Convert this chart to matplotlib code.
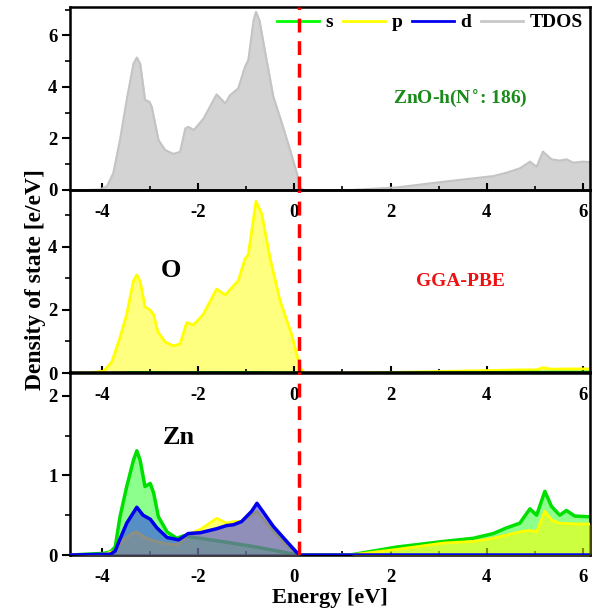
import numpy as np
import matplotlib
matplotlib.use("Agg")
import matplotlib.pyplot as plt
from matplotlib.ticker import MultipleLocator

plt.rcParams['font.family'] = ['Liberation Serif', 'DejaVu Serif']
plt.rcParams['font.weight'] = 'bold'
plt.rcParams['axes.unicode_minus'] = False

# ---- data (energy in eV, DOS in e/eV) ----
tdos_e = [-4.67, -4.3, -4.04, -3.9, -3.77, -3.63, -3.49, -3.35, -3.28, -3.21, -3.11, -3.02,
          -2.97, -2.83, -2.69, -2.52, -2.38, -2.27, -2.21, -2.09, -1.89, -1.62, -1.44,
          -1.34, -1.17, -1.03, -0.96, -0.85, -0.80, -0.73, -0.58, -0.44, -0.26, -0.09,
          0.05, 0.12, 0.2, 1.16, 2.13, 3.10, 4.14, 4.41, 4.69, 4.90, 5.04, 5.17, 5.35,
          5.52, 5.66, 5.80, 6.0, 6.15]
tdos_v = [0, 0, 0.02, 0.15, 0.65, 1.94, 3.5, 4.9, 5.14, 4.9, 3.5, 3.42,
          3.23, 1.94, 1.55, 1.40, 1.48, 2.39, 2.45, 2.33, 2.78, 3.71, 3.36,
          3.68, 3.94, 4.78, 5.04, 6.59, 6.91, 6.59, 5.04, 3.62, 2.58, 1.55,
          0.65, 0.08, 0, 0, 0.10, 0.32, 0.54, 0.67, 0.84, 1.10, 0.9, 1.49, 1.19,
          1.14, 1.19, 1.06, 1.10, 1.08]

o_p_e = [-4.67, -4.3, -3.97, -3.8, -3.63, -3.49, -3.35, -3.28, -3.21, -3.11, -3.00, -2.93,
         -2.84, -2.69, -2.52, -2.38, -2.24, -2.10, -1.90, -1.62, -1.44, -1.30, -1.17,
         -1.03, -0.96, -0.80, -0.68, -0.51, -0.30, -0.06, 0.12, 0.2, 1.2, 2.1, 3.1,
         4.1, 4.7, 5.04, 5.17, 5.35, 5.66, 6.15]
o_p_v = [0, 0, 0.06, 0.35, 1.12, 1.86, 2.92, 3.11, 2.9, 2.1, 1.99, 1.85,
         1.3, 0.98, 0.86, 0.92, 1.60, 1.52, 1.85, 2.66, 2.47, 2.71, 2.92,
         3.61, 3.75, 5.44, 5.04, 3.66, 2.29, 1.23, 0.17, 0, 0, 0.02, 0.05,
         0.08, 0.10, 0.10, 0.17, 0.12, 0.13, 0.13]
o_s_e = [-4.67, -3.9, -3.3, -2.5, -1.0, 0.1, 0.2, 1.2, 3.0, 5.2, 6.15]
o_s_v = [0, 0, 0.03, 0.02, 0.03, 0.01, 0, 0, 0.02, 0.04, 0.04]

zn_s_e = [-4.67, -3.97, -3.83, -3.73, -3.63, -3.49, -3.35, -3.28, -3.21, -3.11, -3.00,
          -2.93, -2.83, -2.65, -2.45, -2.31, -1.96, -1.41, -0.89, -0.44, -0.09, 0.12,
          1.16, 2.13, 3.10, 3.72, 4.14, 4.41, 4.69, 4.90, 5.04, 5.21, 5.35, 5.52,
          5.66, 5.83, 6.15]
zn_s_v = [0, 0.02, 0.04, 0.10, 0.48, 0.86, 1.19, 1.31, 1.19, 0.86, 0.90,
          0.78, 0.48, 0.29, 0.21, 0.24, 0.21, 0.16, 0.11, 0.06, 0.02, 0,
          0, 0.10, 0.17, 0.21, 0.27, 0.34, 0.40, 0.58, 0.50, 0.80, 0.61, 0.50,
          0.56, 0.49, 0.48]

zn_p_e = [-4.67, -3.97, -3.73, -3.63, -3.49, -3.35, -3.28, -3.11, -2.93, -2.65, -2.45,
          -2.31, -2.21, -1.96, -1.62, -1.41, -1.27, -1.10, -0.89, -0.78, -0.65, -0.44,
          -0.16, 0.12, 1.16, 2.13, 3.10, 3.72, 4.14, 4.41, 4.69, 4.90, 5.04, 5.21,
          5.35, 5.52, 5.83, 6.15]
zn_p_v = [0, 0.01, 0.05, 0.15, 0.22, 0.28, 0.29, 0.22, 0.18, 0.14, 0.13,
          0.20, 0.26, 0.32, 0.46, 0.40, 0.42, 0.42, 0.50, 0.55, 0.45, 0.30,
          0.12, 0, 0, 0.07, 0.15, 0.17, 0.21, 0.25, 0.29, 0.31, 0.29, 0.55,
          0.44, 0.40, 0.39, 0.39]

zn_d_e = [-4.67, -3.83, -3.73, -3.63, -3.49, -3.28, -3.15, -3.00, -2.86, -2.65, -2.41,
          -2.31, -2.21, -1.96, -1.62, -1.41, -1.27, -1.10, -0.89, -0.78, -0.65, -0.44,
          -0.16, 0.05, 0.12, 6.15]
zn_d_v = [0, 0.01, 0.05, 0.2, 0.4, 0.6, 0.5, 0.45, 0.34, 0.22, 0.19,
          0.23, 0.27, 0.28, 0.33, 0.37, 0.38, 0.42, 0.55, 0.65, 0.54, 0.36,
          0.17, 0.03, 0, 0]

e_fermi = 0.1

fig = plt.figure(figsize=(5.98, 6.12), dpi=100)
left, right = 70 / 598, 590 / 598
tops = [7, 190, 372]
h = 183
axes = []
for t in tops:
    ax = fig.add_axes([left, 1 - (t + h) / 612, right - left, h / 612])
    ax.set_facecolor('none')
    axes.append(ax)
ax1, ax2, ax3 = axes

# top: TDOS
ax1.fill_between(tdos_e, tdos_v, color='#d3d3d3')
ax1.plot(tdos_e, tdos_v, color='#c4c4c4', lw=1.5)
ax1.set_ylim(0, 7.1)
ax1.yaxis.set_major_locator(MultipleLocator(2))
ax1.yaxis.set_minor_locator(MultipleLocator(1))

# middle: O
ax2.fill_between(o_p_e, o_p_v, color='#ffff00', alpha=0.5, lw=0)
ax2.plot(o_p_e, o_p_v, color='#ffff00', lw=2)
ax2.fill_between(o_s_e, o_s_v, color='#00ff00', alpha=0.5, lw=0)
ax2.plot(o_s_e, o_s_v, color='#00dd00', lw=1.5)
ax2.set_ylim(0, 5.8)
ax2.yaxis.set_major_locator(MultipleLocator(2))
ax2.yaxis.set_minor_locator(MultipleLocator(1))

# bottom: Zn  (s, then p, then d on top)
ax3.fill_between(zn_s_e, zn_s_v, color='#00ff00', alpha=0.45, lw=0, zorder=1)
ax3.plot(zn_s_e, zn_s_v, color='#00e000', lw=2.5, zorder=2)
ax3.fill_between(zn_p_e, zn_p_v, color='#ffff00', alpha=0.55, lw=0, zorder=3)
ax3.plot(zn_p_e, zn_p_v, color='#ffff00', lw=2, zorder=4)
ax3.fill_between(zn_d_e, zn_d_v, color='#2020ff', alpha=0.5, lw=0, zorder=5)
ax3.plot(zn_d_e, zn_d_v, color='#0000ee', lw=2.5, zorder=6)
ax3.set_ylim(0, 2.3)
ax3.yaxis.set_major_locator(MultipleLocator(1))
ax3.yaxis.set_minor_locator(MultipleLocator(0.5))

for ax in axes:
    ax.set_xlim(-4.67, 6.15)
    ax.axvline(e_fermi, color='red', ls=(0, (4, 2.5)), lw=2.5, zorder=7)
    ax.xaxis.set_major_locator(MultipleLocator(2))
    ax.xaxis.set_minor_locator(MultipleLocator(1))
    ax.tick_params(axis='x', which='major', direction='in', length=5, width=1.5,
                   pad=10, labelsize=13.5)
    ax.tick_params(axis='x', which='minor', direction='in', length=3, width=1.2)
    ax.tick_params(axis='y', which='major', direction='out', length=6, width=1.5,
                   pad=3, labelsize=13.5)
    ax.tick_params(axis='y', which='minor', direction='out', length=3.5, width=1.2)
    for sp in ax.spines.values():
        sp.set_linewidth(1.8)
    for lab in ax.get_xticklabels() + ax.get_yticklabels():
        lab.set_fontweight('bold')

# legend
handles = [plt.Line2D([], [], color='#00ff00', lw=2),
           plt.Line2D([], [], color='#ffff00', lw=2),
           plt.Line2D([], [], color='#0000ee', lw=2),
           plt.Line2D([], [], color='#c8c8c8', lw=2)]
ax1.legend(handles, ['s', 'p', 'd', 'TDOS'], loc='upper right', ncol=4, frameon=False,
           handlelength=2.15, handletextpad=0.35, columnspacing=0.5, borderaxespad=0.1,
           borderpad=0.25, prop={'weight': 'bold', 'size': 14})

ax1.text(0.75, 0.5, 'ZnO-h(N$^{\\circ}$: 186)', transform=ax1.transAxes, color='#1a8a1a',
         fontsize=14, fontweight='bold', ha='center', va='center')
ax2.text(0.195, 0.56, 'O', transform=ax2.transAxes, fontsize=19, fontweight='bold',
         ha='center', va='center')
ax2.text(0.75, 0.5, 'GGA-PBE', transform=ax2.transAxes, color='#ee1111',
         fontsize=14, fontweight='bold', ha='center', va='center')
ax3.text(0.21, 0.64, 'Zn', transform=ax3.transAxes, fontsize=19, fontweight='bold',
         ha='center', va='center')

fig.text(330 / 598, 1 - 598 / 612, 'Energy [eV]', ha='center', va='center',
         fontsize=16, fontweight='bold')
fig.text(36 / 598, 1 - 280 / 612, 'Density of state [e/eV]', ha='center', va='center',
         rotation=90, fontsize=17, fontweight='bold')

fig.savefig('out.png', dpi=100)
